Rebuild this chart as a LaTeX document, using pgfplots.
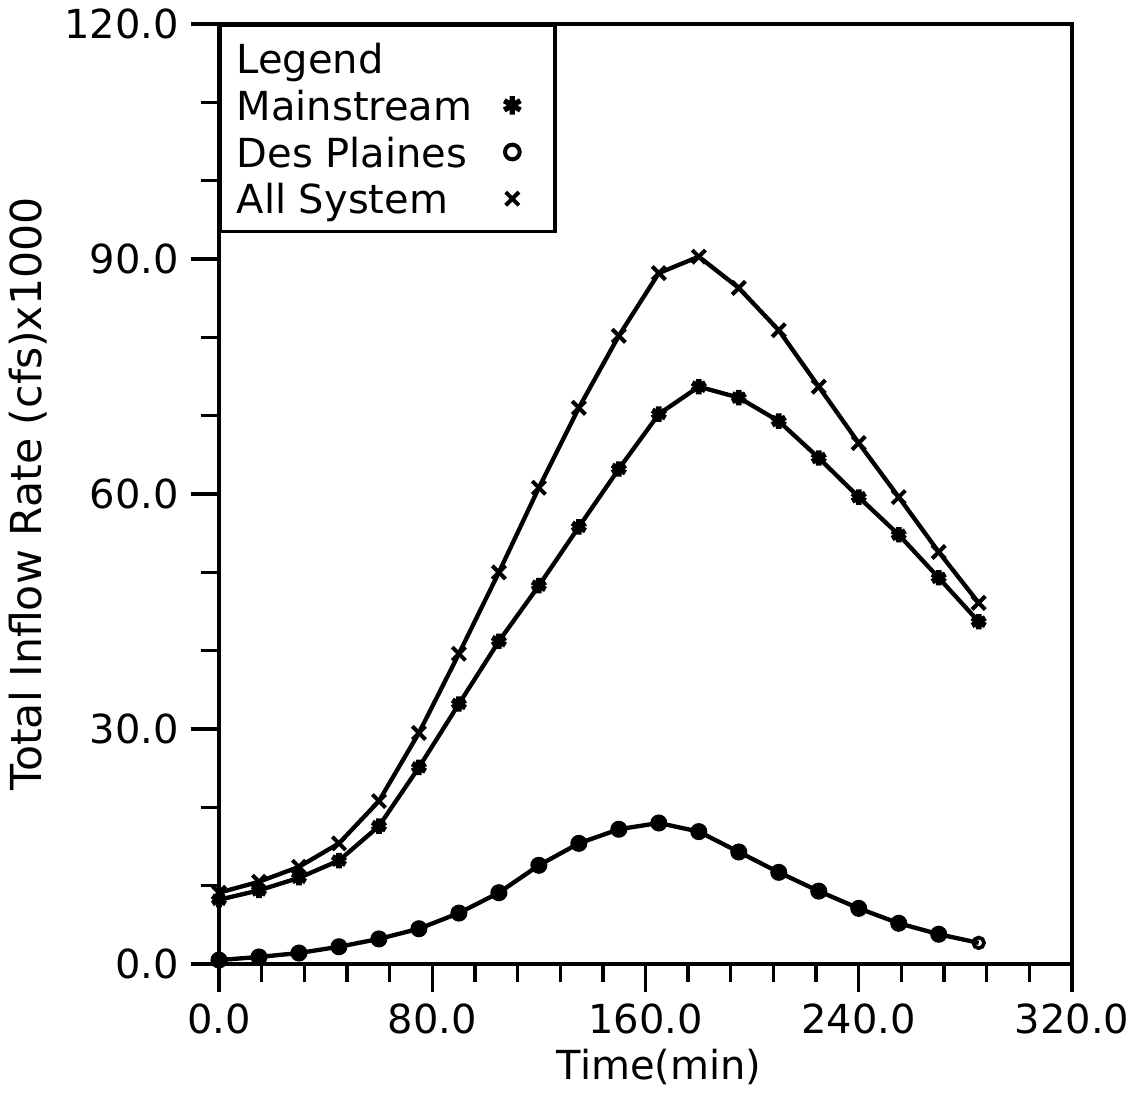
\documentclass[border=0pt]{standalone}
\usepackage{fontspec}
\setmainfont{DejaVu Sans}
\usepackage{pgfplots}
\pgfplotsset{compat=1.18}
\begin{document}
\begin{tikzpicture}
\useasboundingbox (-65.7pt,-40.5pt) rectangle (275.4pt,289.2pt);
\begin{axis}[
  width=255.9pt, height=282pt, scale only axis,
  xmin=0, xmax=320, ymin=0, ymax=120,
  xtick={0,80,160,240,320}, ytick={0,30,60,90,120},
  minor x tick num=4, minor y tick num=2,
  tick pos=left, tick align=outside,
  major tick length=8.5pt, minor tick length=5.5pt,
  every tick/.style={black, line width=1pt},
  axis line style={line width=1pt},
  font=\fontsize{12}{14}\selectfont,
  /pgf/number format/fixed,
  /pgf/number format/fixed zerofill,
  /pgf/number format/precision=1,
  /pgf/number format/assume math mode=true,
  every axis x label/.style={at={(axis description cs:0.516,-0.11)}, anchor=center},
  every axis y label/.style={at={(axis description cs:-0.224,0.5)}, rotate=90, anchor=center, font=\fontsize{12.8}{14}\selectfont},
  xlabel={Time(min)},
  ylabel={Total Inflow Rate (cfs)x1000},
  legend style={at={(0,1)}, anchor=north west, draw=black, line width=1pt,
    inner xsep=4.3pt, inner ysep=2.9pt, row sep=0pt, column sep=3pt,
    font=\fontsize{12}{14}\selectfont,
    nodes={text height=11pt, text depth=2pt, inner sep=0.5pt}},
  legend plot pos=right,
  legend cell align=left,
  legend image code/.code={\path (0pt,0pt) (16pt,0pt); \draw[#1] plot coordinates {(8pt,0pt)};},
]
% Mainstream
\addplot[forget plot, black, line width=1.3pt, mark=asterisk, mark size=2.3pt, mark options={line width=1.7pt}] coordinates {
(0,8.2) (15,9.4) (30,11.0) (45,13.2) (60,17.6) (75,25.1) (90,33.2) (105,41.2) (120,48.3) (135,55.8)
(150,63.2) (165,70.2) (180,73.7) (195,72.3) (210,69.3) (225,64.6) (240,59.6) (255,54.8) (270,49.3) (285,43.7)};
% Des Plaines
\addplot[forget plot, black, line width=1.3pt, mark=*, mark size=1.9pt, mark indices={1,...,19}] coordinates {
(0,0.5) (15,0.9) (30,1.4) (45,2.2) (60,3.2) (75,4.5) (90,6.5) (105,9.1) (120,12.6) (135,15.4)
(150,17.2) (165,18.0) (180,16.9) (195,14.3) (210,11.7) (225,9.3) (240,7.1) (255,5.2) (270,3.8) (285,2.7)};
\addplot[forget plot, only marks, black, mark=o, mark size=1.6pt, mark options={line width=1.1pt, fill=white}] coordinates {(285,2.7)};
% All System
\addplot[forget plot, black, line width=1.3pt, mark=x, mark size=2.8pt, mark options={line width=1.2pt}] coordinates {
(0,9.1) (15,10.5) (30,12.4) (45,15.4) (60,20.8) (75,29.5) (90,39.6) (105,50.0) (120,60.8) (135,71.0)
(150,80.2) (165,88.2) (180,90.3) (195,86.3) (210,80.9) (225,73.7) (240,66.5) (255,59.6) (270,52.6) (285,46.1)};
\addlegendimage{empty legend}
\addlegendentry{Legend}
\addlegendimage{only marks, black, mark=asterisk, mark size=2.8pt, mark options={line width=1.6pt}}
\addlegendentry{Mainstream}
\addlegendimage{only marks, black, mark=o, mark size=2.2pt, mark options={line width=1.2pt}}
\addlegendentry{Des Plaines}
\addlegendimage{only marks, black, mark=x, mark size=2.8pt, mark options={line width=1.2pt}}
\addlegendentry{All System}
\end{axis}
\end{tikzpicture}
\end{document}
